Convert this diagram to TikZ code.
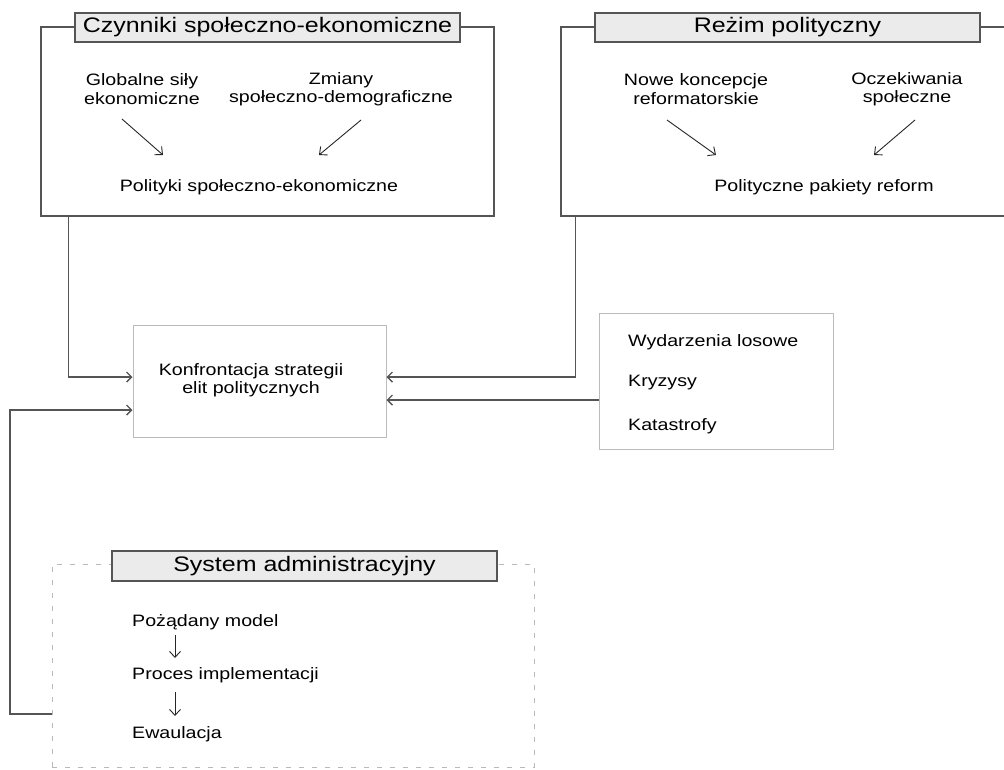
\documentclass[tikz,border=0pt]{standalone}
\usepackage{fontspec}
\setmainfont{Liberation Sans}[FakeStretch=1.19]
\usetikzlibrary{arrows.meta,calc}
\definecolor{lineg}{HTML}{555555}
\definecolor{titlefill}{HTML}{EBEBEB}
\definecolor{lightframe}{HTML}{BBBBBB}
\tikzset{
  bigframe/.style={draw=lineg, line width=1.1pt, rectangle, inner sep=0pt},
  titlebox/.style={draw=lineg, line width=1.1pt, fill=titlefill, rectangle, inner sep=0pt,
    minimum width=385pt, minimum height=29pt, font=\fontsize{21}{24}\selectfont},
  lightbox/.style={draw=lightframe, line width=1pt, rectangle, inner sep=0pt},
  dashbox/.style={draw=gray!55, line width=0.9pt, dash pattern=on 5pt off 8pt, rectangle, inner sep=0pt},
  txt/.style={inner sep=0pt, align=center, font=\fontsize{16.5}{18.5}\selectfont},
  ltxt/.style={inner sep=0pt, anchor=west, font=\fontsize{16.5}{18.5}\selectfont},
  conn/.style={draw=lineg, line width=1.4pt, -{Straight Barb[length=5pt,width=10pt]}},
  inarr/.style={draw=black!85, line width=0.9pt, -{Straight Barb[length=6pt,width=11pt]}},
}
\begin{document}
\begin{tikzpicture}[x=1pt,y=-1pt]
\useasboundingbox (0,0) rectangle (1004,769);
\clip (0,0) rectangle (1004,769);

% top-left frame
\node[bigframe, minimum width=453pt, minimum height=189pt] (b1) at (267.5,121.5) {};
\node[titlebox] (t1) at (267.5,27.5) {Czynniki społeczno-ekonomiczne};
\node[txt] (g1) at (142,89) {Globalne siły\\ekonomiczne};
\node[txt] (g2) at (341,89) {Zmiany\\społeczno-demograficzne};
\node[txt] (p1) at (259,187) {Polityki społeczno-ekonomiczne};
\draw[inarr] ($(g1.center)+(-20,30)$) -- ($(p1.center)+(-96,-32)$);
\draw[inarr] ($(g2.center)+(20,31)$) -- ($(p1.center)+(60,-32)$);

% top-right frame
\node[bigframe, minimum width=460pt, minimum height=189pt] (b2) at (791,121.5) {};
\node[titlebox] (t2) at (787.5,27.5) {Reżim polityczny};
\node[txt] (n1) at (696,89) {Nowe koncepcje\\reformatorskie};
\node[txt] (o1) at (907,89) {Oczekiwania\\społeczne};
\node[txt] (p2) at (824,187) {Polityczne pakiety reform};
\draw[inarr] ($(n1.center)+(-29,31)$) -- ($(p2.center)+(-108,-32)$);
\draw[inarr] ($(o1.center)+(8,31)$) -- ($(p2.center)+(50,-32)$);

% central box
\node[lightbox, minimum width=253pt, minimum height=112pt] (conf) at (259.5,381) {};
\node[txt] (conft) at (251,380) {Konfrontacja strategii\\elit politycznych};

% events box
\node[lightbox, minimum width=234pt, minimum height=136pt] (ev) at (716,381) {};
\node[ltxt] (e1) at (628,342) {Wydarzenia losowe};
\node[ltxt] (e2) at (628,383) {Kryzysy};
\node[ltxt] (e3) at (628,426) {Katastrofy};

% administrative system
\node[dashbox, minimum width=482pt, minimum height=203pt] (sys) at (293,665.5) {};
\node[titlebox, minimum height=30pt] (t3) at (304.5,566) {System administracyjny};
\node[ltxt] (s1) at (132,622) {Pożądany model};
\node[ltxt] (s2) at (132,675) {Proces implementacji};
\node[ltxt] (s3) at (132,734) {Ewaulacja};
\draw[inarr] ($(s1.west)+(43,13)$) -- ($(s2.west)+(43,-17)$);
\draw[inarr] ($(s2.west)+(43,17)$) -- ($(s3.west)+(43,-18)$);

% connectors
\draw[conn] ([xshift=28pt]b1.south west) |- ([yshift=4pt]conf.west);
\draw[conn] ([xshift=15pt]b2.south west) |- ([yshift=4pt]conf.east);
\draw[conn] ([yshift=-19pt]ev.west) -- ([yshift=-19pt]conf.east);
\coordinate (lc) at (10,714);
\draw[conn] ([yshift=-48.5pt]sys.west) -- (lc) |- ([yshift=-29pt]conf.west);
\end{tikzpicture}
\end{document}
